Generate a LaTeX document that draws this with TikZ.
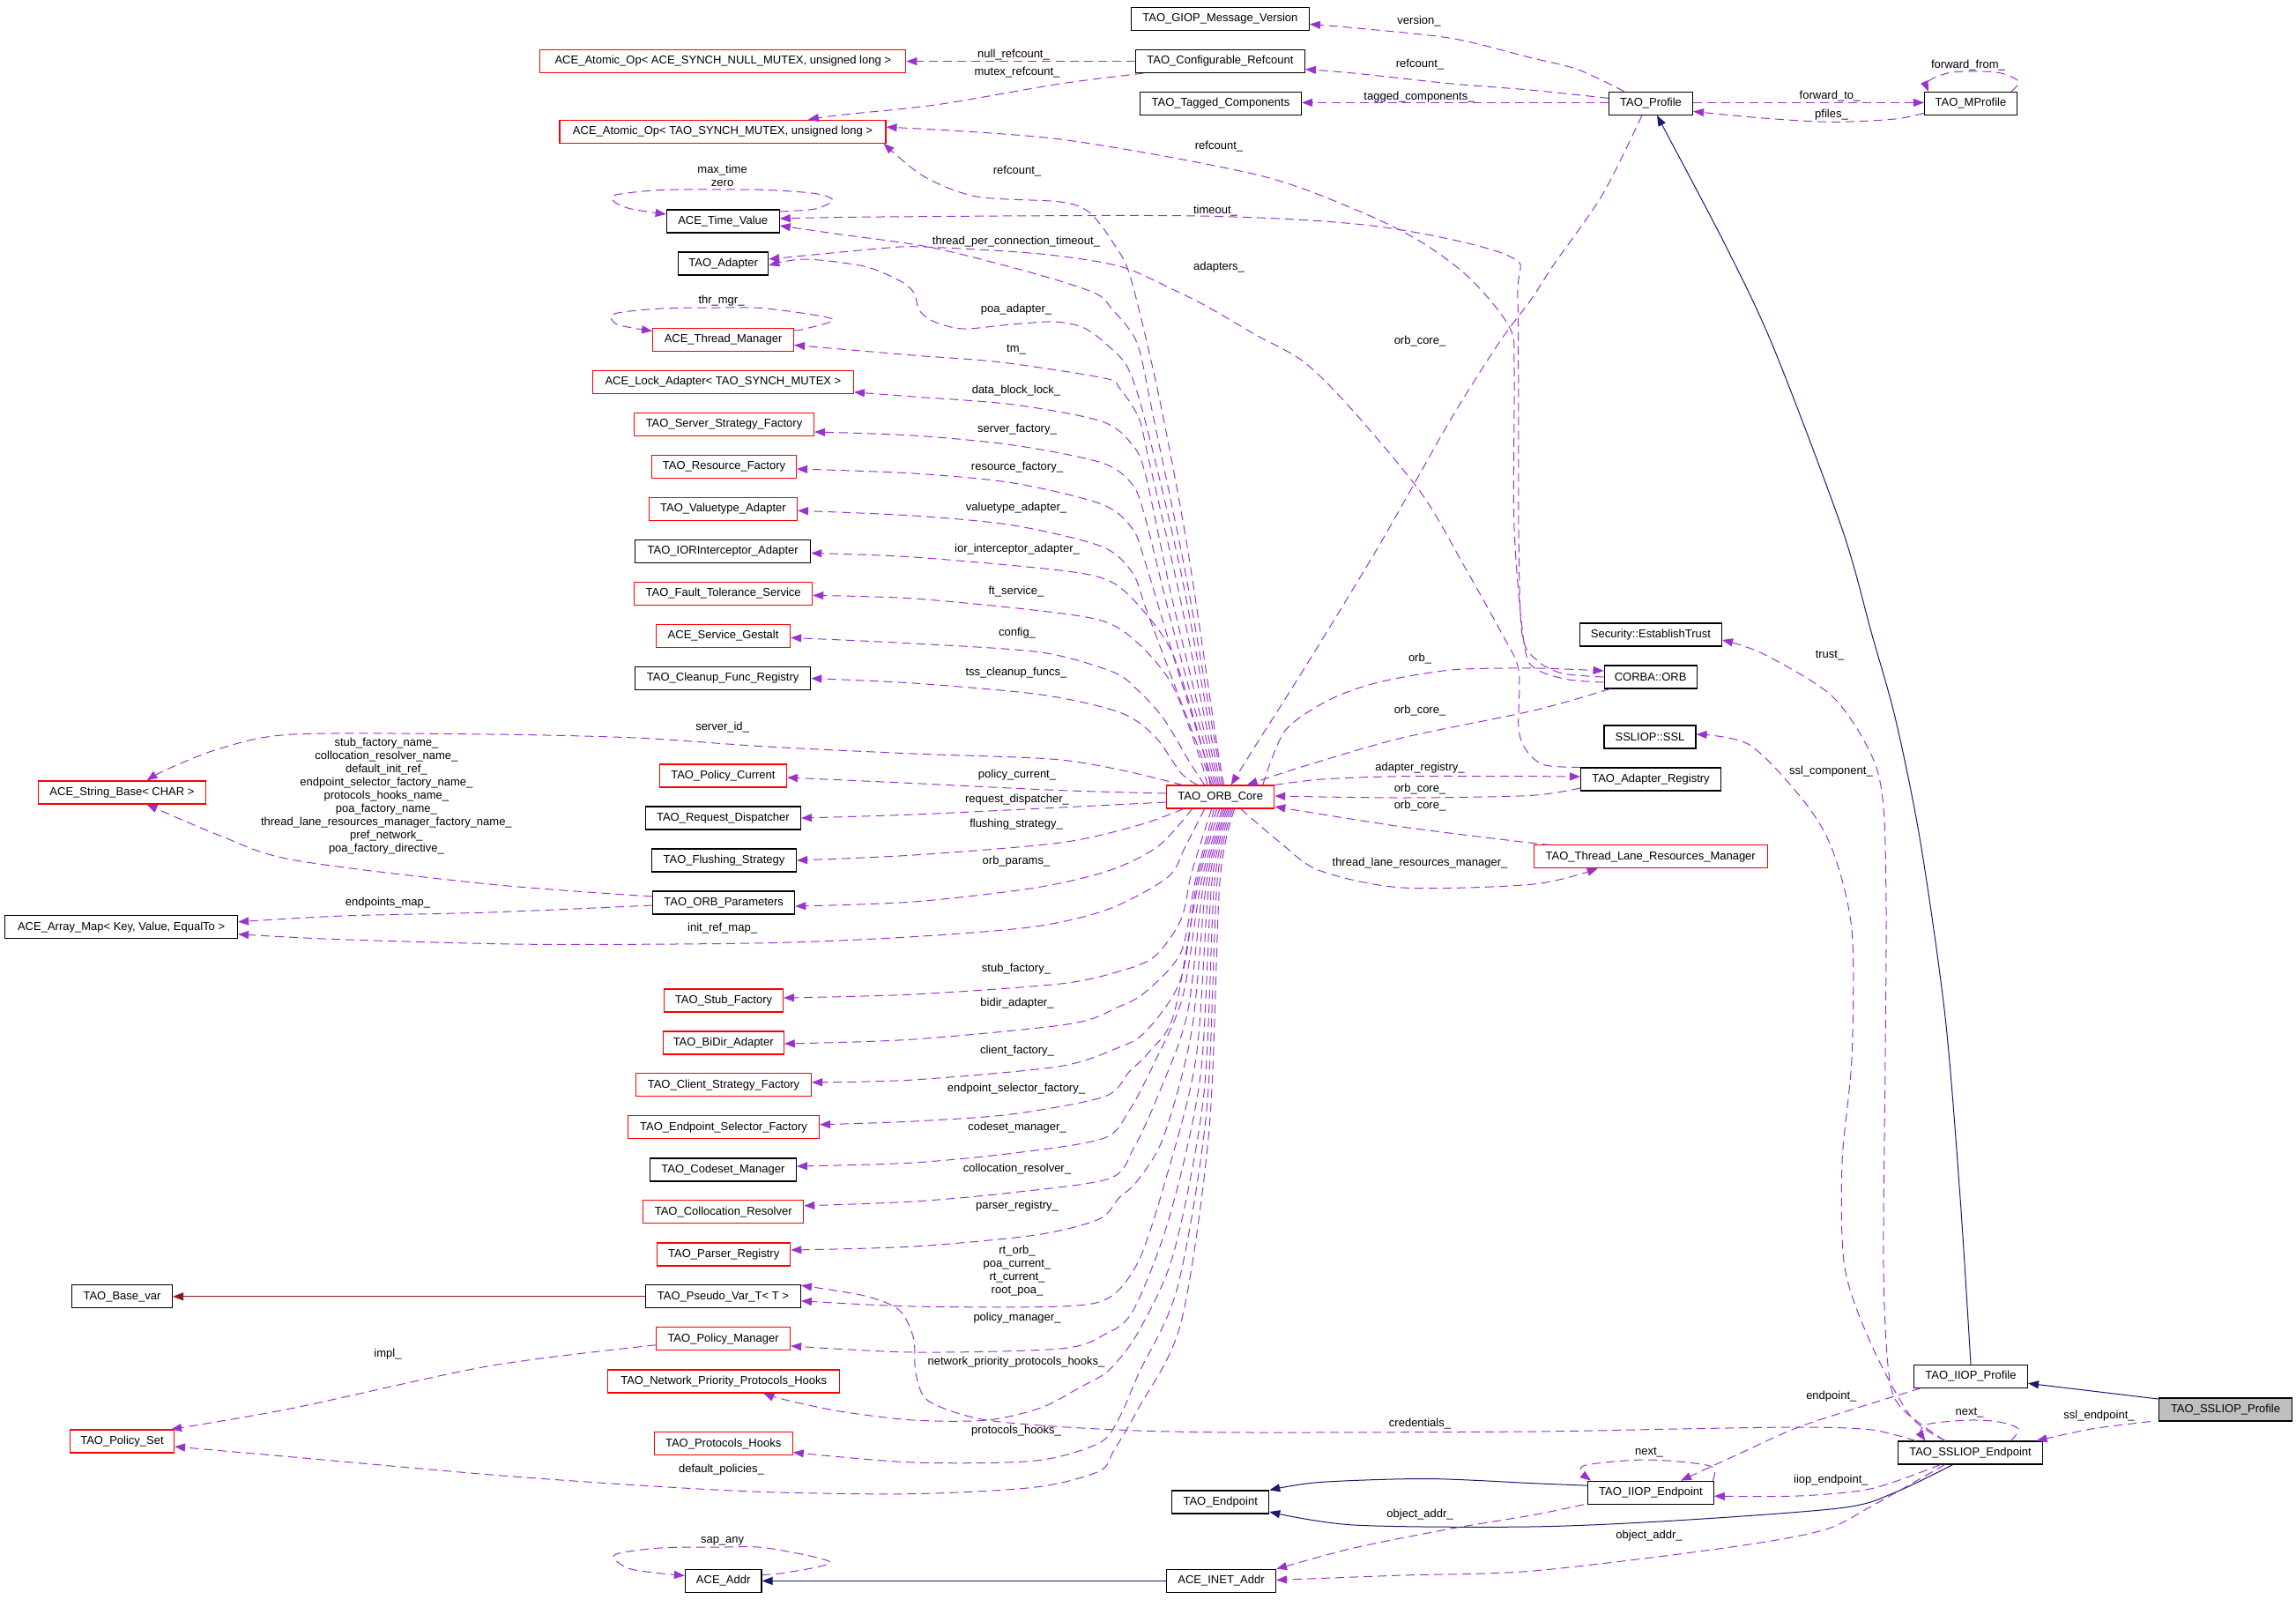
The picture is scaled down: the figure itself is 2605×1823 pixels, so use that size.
\documentclass[tikz,border=0pt]{standalone}
\usepackage{fontspec}
\setmainfont{Liberation Sans}
\usetikzlibrary{arrows.meta}
\definecolor{usecol}{HTML}{9A32CD}
\definecolor{inhcol}{HTML}{191970}
\definecolor{privcol}{HTML}{8B1A1A}
\definecolor{graybox}{HTML}{BFBFBF}
\definecolor{redbox}{HTML}{FF0000}
\begin{document}
\begin{tikzpicture}[x=1pt,y=-1pt,
  every node/.style={font=\fontsize{13}{15}\selectfont},
  bk/.style={draw=black, line width=1.1pt, minimum height=26pt, inner sep=0pt, fill=white},
  rd/.style={bk, draw=redbox},
  gr/.style={bk, fill=graybox},
  lbl/.style={inner sep=0pt, align=center},
  uses/.style={draw=usecol, line width=1pt, dash pattern=on 10pt off 6pt, -{Triangle[length=12pt,width=9pt]}},
  inh/.style={draw=inhcol, line width=1pt, -{Triangle[length=12pt,width=9pt]}},
  priv/.style={draw=privcol, line width=1pt, -{Triangle[length=12pt,width=9pt]}},
]
\useasboundingbox (0,0) rectangle (2605,1823);
% ---------------- nodes ----------------
\node[bk, minimum width=202pt] (giop) at (1384.4,21.5) {TAO\_GIOP\_Message\_Version};
\node[bk, minimum width=192pt] (cref) at (1384.4,69.6) {TAO\_Configurable\_Refcount};
\node[bk, minimum width=183pt] (tagged) at (1385,117.4) {TAO\_Tagged\_Components};
\node[bk, minimum width=95pt] (profile) at (1873,117.4) {TAO\_Profile};
\node[bk, minimum width=105pt] (mprofile) at (2236,117.4) {TAO\_MProfile};
\node[rd, minimum width=415pt] (atomnull) at (820.3,69.6) {ACE\_Atomic\_Op< ACE\_SYNCH\_NULL\_MUTEX, unsigned long >};
\node[rd, minimum width=370pt] (atomtao) at (820,149.2) {ACE\_Atomic\_Op< TAO\_SYNCH\_MUTEX, unsigned long >};
\node[bk, minimum width=128pt] (timeval) at (820.2,251) {ACE\_Time\_Value};
\node[bk, minimum width=102pt] (adapter) at (820.7,299) {TAO\_Adapter};
\node[rd, minimum width=160pt] (thrmgr) at (820.6,385.5) {ACE\_Thread\_Manager};
\node[rd, minimum width=296pt] (lockad) at (820.4,433.3) {ACE\_Lock\_Adapter< TAO\_SYNCH\_MUTEX >};
\node[rd, minimum width=204pt] (serverf) at (821.5,481.5) {TAO\_Server\_Strategy\_Factory};
\node[rd, minimum width=164pt] (resf) at (821.5,529.5) {TAO\_Resource\_Factory};
\node[rd, minimum width=168pt] (valuet) at (820.4,577.3) {TAO\_Valuetype\_Adapter};
\node[bk, minimum width=199pt] (iorint) at (820.2,625.5) {TAO\_IORInterceptor\_Adapter};
\node[rd, minimum width=202pt] (ftserv) at (820.7,673.4) {TAO\_Fault\_Tolerance\_Service};
\node[rd, minimum width=152pt] (gestalt) at (820.6,721.4) {ACE\_Service\_Gestalt};
\node[bk, minimum width=199pt] (cleanup) at (820.2,769.6) {TAO\_Cleanup\_Func\_Registry};
\node[rd, minimum width=144pt] (polcur) at (820.4,880) {TAO\_Policy\_Current};
\node[bk, minimum width=176pt] (reqdisp) at (820.4,928) {TAO\_Request\_Dispatcher};
\node[bk, minimum width=164pt] (flush) at (821.5,976) {TAO\_Flushing\_Strategy};
\node[bk, minimum width=161pt] (orbparams) at (821.2,1024) {TAO\_ORB\_Parameters};
\node[rd, minimum width=190pt] (strbase) at (138.5,899) {ACE\_String\_Base< CHAR >};
\node[bk, minimum width=264pt] (arraymap) at (137.6,1051.8) {ACE\_Array\_Map< Key, Value, EqualTo >};
\node[rd, minimum width=135pt] (stubf) at (821,1135) {TAO\_Stub\_Factory};
\node[rd, minimum width=137pt] (bidir) at (820.7,1183) {TAO\_BiDir\_Adapter};
\node[rd, minimum width=199pt] (clientf) at (821,1230.8) {TAO\_Client\_Strategy\_Factory};
\node[rd, minimum width=217pt] (epself) at (821,1278.8) {TAO\_Endpoint\_Selector\_Factory};
\node[bk, minimum width=166pt] (codeset) at (820.4,1327) {TAO\_Codeset\_Manager};
\node[rd, minimum width=182pt] (colloc) at (820.7,1374.8) {TAO\_Collocation\_Resolver};
\node[rd, minimum width=151pt] (parser) at (821.2,1423) {TAO\_Parser\_Registry};
\node[bk, minimum width=176pt] (pseudo) at (820.4,1470.8) {TAO\_Pseudo\_Var\_T< T >};
\node[bk, minimum width=114pt] (basevar) at (138.5,1470.8) {TAO\_Base\_var};
\node[rd, minimum width=152pt] (polmgr) at (820.6,1518.8) {TAO\_Policy\_Manager};
\node[rd, minimum width=263pt] (netprio) at (821.2,1567) {TAO\_Network\_Priority\_Protocols\_Hooks};
\node[rd, minimum width=118pt] (polset) at (138.5,1635) {TAO\_Policy\_Set};
\node[rd, minimum width=157pt] (prothooks) at (820.7,1637.6) {TAO\_Protocols\_Hooks};
\node[bk, minimum width=86.5pt] (aceaddr) at (820.7,1793.4) {ACE\_Addr};
\node[bk, minimum width=110pt] (endpoint) at (1384.7,1704) {TAO\_Endpoint};
\node[bk, minimum width=124pt] (inetaddr) at (1385.5,1793.4) {ACE\_INET\_Addr};
\node[rd, minimum width=122pt] (orbcore) at (1384.7,904) {TAO\_ORB\_Core};
\node[bk, minimum width=161pt] (trust) at (1873,720) {Security::EstablishTrust};
\node[bk, minimum width=105pt] (corbaorb) at (1872.6,768) {CORBA::ORB};
\node[bk, minimum width=104pt] (ssl) at (1872,836) {SSLIOP::SSL};
\node[bk, minimum width=159pt] (adreg) at (1873,884) {TAO\_Adapter\_Registry};
\node[rd, minimum width=265pt] (tlrm) at (1872.7,971.7) {TAO\_Thread\_Lane\_Resources\_Manager};
\node[bk, minimum width=129pt] (iiopprof) at (2236,1561.3) {TAO\_IIOP\_Profile};
\node[gr, minimum width=151.5pt] (sslprof) at (2525,1599) {TAO\_SSLIOP\_Profile};
\node[bk, minimum width=164pt] (sslep) at (2235.5,1648) {TAO\_SSLIOP\_Endpoint};
\node[bk, minimum width=142.6pt] (iiopep) at (1873,1693.2) {TAO\_IIOP\_Endpoint};
% ---------------- top area ----------------
\draw[uses] (cref.west) -- (atomnull.east);
\draw[uses] plot[smooth] coordinates {([xshift=-87pt]cref.south) (1203,95) (1064,118.6) (953,130.5) ([xshift=97pt]atomtao.north)};
\draw[uses] plot[smooth] coordinates {([xshift=-30pt]profile.north) (1790.5,79) (1735,65) (1647,43.5) (1536,31.6) ([yshift=-6pt]giop.east)};
\draw[uses] plot[smooth] coordinates {([yshift=6pt]profile.west) (1735,102) (1647,95) (1536,83) ([yshift=-9pt]cref.east)};
\draw[uses] ([yshift=1pt]profile.west) -- ([yshift=1pt]tagged.east);
\draw[uses] ([yshift=1pt]profile.east) -- ([yshift=1pt]mprofile.west);
\draw[uses] plot[smooth] coordinates {([yshift=-11pt]mprofile.west) (2150,135) (2079,138.4) (2000,134) ([yshift=-9pt]profile.east)};
\draw[uses] plot[smooth] coordinates {([xshift=46pt]mprofile.north) (2290,92) (2265,82) (2215,82) (2188,92) ([xshift=-48pt]mprofile.north)};
\draw[uses] plot[smooth] coordinates {([xshift=-10pt]profile.south) (1818,221) (1763,300) (1737,340) (1702,387) (1647,474) (1564,620) (1480,758) (1425,845) ([xshift=12pt]orbcore.north)};
\draw[inh] plot[smooth] coordinates {(iiopprof.north) (2224,1359) (2207,1154) (2179,956) (2151,817.5) (2123.5,718.6) (2090,600) (2012.5,395) (1957,277) ([xshift=7pt]profile.south)};
% ---------------- self loops ----------------
\draw[uses] plot[smooth] coordinates {([yshift=11pt]timeval.east) (925,237) (945,227) (925,219.5) (870,215.5) (820,215) (750,215.5) (699,221) (697,229) (716,237) ([yshift=8pt]timeval.west)};
\draw[uses] plot[smooth] coordinates {([yshift=11pt]thrmgr.east) (909,374) (945,362) (870,350) (820,349) (750,350) (697,356) (700,368) ([yshift=10pt]thrmgr.west)};
\draw[uses] plot[smooth] coordinates {([yshift=7pt]aceaddr.east) (892,1784) (942,1772) (870,1756) (820,1755) (749,1756) (697,1764) (716,1780) ([yshift=6pt]aceaddr.west)};
% ---------------- CORBA::ORB / adapter registry ----------------
\draw[uses] plot[smooth] coordinates {(corbaorb.west) (1773,764) (1745,750) (1727,720) (1723,600) (1722,340) (1713,291) (1564,257) (1360,245) (1000,246) ([yshift=3pt]timeval.east)};
\draw[uses] plot[smooth] coordinates {([yshift=-6pt]corbaorb.west) (1780,771) (1745,760) (1730,735) (1718,600) (1718,420) (1713,372) (1668,316) (1610,273) (1536,237) (1425,198) (1203,158) ([yshift=5pt]atomtao.east)};
\draw[uses] plot[smooth] coordinates {(adreg.north west) (1753,868) (1733,853) (1723,827) (1723,760) (1703,717) (1660,640) (1613,560) (1536,467) (1480,411) (1425,380) (1370,348) (1330,328) (1270,302) (1180,288) (1047,280) (997,282) ([yshift=5pt]adapter.east)};
\draw[uses] plot[smooth] coordinates {([xshift=48pt]orbcore.north) (1458,829) (1508,794) (1564,774) (1647,760) (1740,758) ([yshift=7pt]corbaorb.west)};
\draw[uses] plot[smooth] coordinates {([xshift=-46pt]corbaorb.south) (1740,806) (1591,837) (1480,869) ([xshift=30pt]orbcore.north)};
\draw[uses] plot[smooth] coordinates {(orbcore.north east) (1500,884) (1591,880.7) (1740,880.7) ([yshift=3pt]adreg.west)};
\draw[uses] plot[smooth] coordinates {([yshift=-10pt]adreg.west) (1735,902.5) (1591,905) ([yshift=1pt]orbcore.east)};
\draw[uses] plot[smooth] coordinates {([xshift=-113pt]tlrm.north) (1735,956) (1591,938) ([yshift=-11pt]orbcore.east)};
\draw[uses] plot[smooth] coordinates {([xshift=23pt]orbcore.south) (1452.7,956) (1497,987.5) (1591,1007) (1740,1003) ([xshift=-60pt]tlrm.south)};
% ---------------- ORB core upper fan ----------------
\draw[uses] plot[smooth] coordinates {([xshift=4pt]orbcore.north) (1380,840) (1347,620) (1315,450) (1283,316) (1264,277) (1236,241) (1203,229) (1108,223) (1048,200) ([xshift=-3pt]atomtao.south east)};
\draw[uses] plot[smooth] coordinates {([xshift=2pt]orbcore.north) (1378,840) (1345,650) (1310,480) (1293,398) (1280,372) (1263,352) (1247,335) (1213,322) (1147,303) (1053,280) (947,265) ([yshift=-5pt]timeval.east)};
\draw[uses] plot[smooth] coordinates {(orbcore.north) (1375,840) (1340,650) (1300,480) (1280,418) (1257,392) (1230,372) (1197,365) (1147,368) (1093,373) (1060,365) (1043,352) (1037,332) (1020,318) (980,302) (913,294) ([yshift=-2pt]adapter.east)};
\draw[uses] plot[smooth] coordinates {([xshift=-2pt]orbcore.north) (1372,840) (1335,660) (1303,520) (1292,474) (1270,440) (1253,429) (1136,411) (1036,403) ([yshift=-6pt]thrmgr.east)};
\draw[uses] plot[smooth] coordinates {([xshift=-4pt]orbcore.north) (1370,845) (1330,680) (1300,540) (1285,505) (1250,478) (1150,459) (1036,450) ([yshift=2pt]lockad.south east)};
\draw[uses] plot[smooth] coordinates {([xshift=-6pt]orbcore.north) (1368,850) (1330,710) (1300,590) (1285,550) (1250,525) (1150,505) (1036,494) ([yshift=-8.5pt]serverf.east)};
\draw[uses] plot[smooth] coordinates {([xshift=-8pt]orbcore.north) (1366,855) (1330,740) (1300,640) (1285,600) (1250,572) (1150,548) (1036,537) ([yshift=-2.5pt]resf.east)};
\draw[uses] plot[smooth] coordinates {([xshift=-10pt]orbcore.north) (1364,860) (1330,770) (1300,690) (1285,650) (1250,620) (1150,596) (1036,585) ([yshift=-2pt]valuet.east)};
\draw[uses] plot[smooth] coordinates {([xshift=-12pt]orbcore.north) (1366,855) (1330.6,742) (1292,687) (1258.5,659) (1203,647) (1036.5,632) ([yshift=-2pt]iorint.east)};
\draw[uses] plot[smooth] coordinates {([xshift=-15pt]orbcore.north) (1362,862) (1330.6,778) (1292,730.5) (1253,705) (1181,693) (1036.5,679) ([yshift=-2pt]ftserv.east)};
\draw[uses] plot[smooth] coordinates {([xshift=-18pt]orbcore.north) (1350,865) (1320,815) (1290,782) (1262,762) (1181,740) (1036.5,730) ([yshift=-2pt]gestalt.east)};
\draw[uses] plot[smooth] coordinates {([xshift=-26pt]orbcore.north) (1340,877) (1310,835) (1270,808) (1181,788) (1036,775) (cleanup.east)};
\draw[uses] plot[smooth] coordinates {([xshift=-43pt]orbcore.north) (1269.5,873) (1192,861) (1036.5,855) (870,847) (721,837) (555,833) (333,833) (250,849) (189,873) ([xshift=28pt]strbase.north)};
\draw[uses] plot[smooth] coordinates {([yshift=4pt]orbcore.west) (1203,896.6) (1036.5,888.6) ([yshift=-2pt]polcur.east)};
\draw[uses] plot[smooth] coordinates {([yshift=-6pt]orbcore.west) (1203,916) (1036.5,924) (reqdisp.east)};
% ---------------- ORB core lower fan ----------------
\draw[uses] plot[smooth] coordinates {([xshift=-42pt]orbcore.south) (1292,936) (1203,956) (1036.5,970) (flush.east)};
\draw[uses] plot[smooth] coordinates {([xshift=-32pt]orbcore.south) (1314,960) (1258.5,987.5) (1175,1007) (1036.5,1023) ([yshift=-4pt]orbparams.east)};
\draw[uses] plot[smooth] coordinates {([xshift=-18pt]orbcore.south) (1345,960) (1325,995) (1258.5,1031) (1175,1051) (1036.5,1062.6) (870,1069.7) (610,1071.3) (388.5,1065.8) ([yshift=-8pt]arraymap.east)};
\draw[uses] plot[smooth] coordinates {([xshift=-10pt]orbcore.south) (1352,990) (1340,1043) (1310,1085) (1269.5,1102) (1203,1116) (1036.5,1128) ([yshift=3pt]stubf.east)};
\draw[uses] plot[smooth] coordinates {([xshift=-7pt]orbcore.south) (1356,1000) (1340,1080) (1300,1125) (1269.5,1142) (1214,1161.5) (1036.5,1179) ([yshift=-1pt]bidir.east)};
\draw[uses] plot[smooth] coordinates {([xshift=-4pt]orbcore.south) (1358,1000) (1340,1110) (1300,1170) (1265,1190) (1200,1210) (1036.5,1225) ([yshift=3pt]clientf.east)};
\draw[uses] plot[smooth] coordinates {([xshift=-1pt]orbcore.south) (1360,1000) (1332,1150) (1305,1192) (1281,1216) (1253,1244) (1147,1264) (1036.5,1272) ([yshift=3pt]epself.east)};
\draw[uses] plot[smooth] coordinates {([xshift=2pt]orbcore.south) (1363,1000) (1342,1130) (1310,1205) (1281,1260) (1253,1291) (1159,1307) (1036.5,1319) ([yshift=4pt]codeset.east)};
\draw[uses] plot[smooth] coordinates {([xshift=4pt]orbcore.south) (1366,1000) (1347,1150) (1315,1240) (1286,1303) (1258.5,1337) (1147,1353) (1036.5,1363) ([yshift=7pt]colloc.east)};
\draw[uses] plot[smooth] coordinates {([xshift=6pt]orbcore.south) (1369,1000) (1352,1170) (1320,1290) (1290,1340) (1269.5,1359) (1247,1383) (1175,1401) (1036.5,1414) ([yshift=5pt]parser.east)};
\draw[uses] plot[smooth] coordinates {([xshift=8pt]orbcore.south) (1372,1000) (1357,1200) (1322,1340) (1292,1430) (1258.5,1472) (1203,1482) (1036.5,1482) ([yshift=-5pt]pseudo.east)};
\draw[uses] plot[smooth] coordinates {([xshift=10pt]orbcore.south) (1375,1000) (1362,1220) (1327,1380) (1286,1486) (1253,1514) (1203,1530) (1036.5,1534) ([yshift=-8pt]polmgr.east)};
\draw[uses] plot[smooth] coordinates {([xshift=12pt]orbcore.south) (1378,1000) (1366,1240) (1332,1420) (1292,1510) (1258.5,1554) (1225,1574) (1181,1597) (1120,1611) (1036.5,1611) (953,1601) (887,1587) ([xshift=45pt]netprio.south)};
\draw[uses] plot[smooth] coordinates {([xshift=14pt]orbcore.south) (1381,1000) (1369,1260) (1336,1460) (1292,1558) (1269.5,1609) (1247,1637) (1175,1657) (1036.5,1659) ([yshift=-10pt]prothooks.east)};
\draw[uses] plot[smooth] coordinates {([xshift=16pt]orbcore.south) (1384,1000) (1372,1280) (1340,1500) (1292,1597) (1264,1645) (1247,1669) (1175,1687) (1036.5,1694.6) (870,1692.6) (721,1684.7) (555,1672.8) (333,1653) ([yshift=-6pt]polset.east)};
% ---------------- left side ----------------
\draw[priv] (pseudo.west) -- (basevar.east);
\draw[uses] plot[smooth] coordinates {([yshift=-7pt]polmgr.west) (555,1549.6) (333,1597.3) ([xshift=-4pt]polset.north east)};
\draw[uses] plot[smooth] coordinates {([yshift=7pt]orbparams.west) (555,1003) (333,975.6) (249.7,948) ([xshift=28pt]strbase.south)};
\draw[uses] plot[smooth] coordinates {([yshift=-3pt]orbparams.west) (555,1035) (388.5,1039) ([yshift=6pt]arraymap.east)};
% ---------------- SSLIOP area ----------------
\draw[uses] plot[smooth] coordinates {([xshift=-29pt]sslep.north) (2157,1597) (2143,1558) (2137,1438) (2139,1200) (2140,1035) (2137,916) (2123.5,857) (2079,790) (2001,742) ([yshift=-6pt]trust.east)};
\draw[uses] plot[smooth] coordinates {([xshift=-28pt]sslep.north) (2168,1607) (2123.5,1526) (2093,1438) (2090,1319) (2101,1200) (2101,1055) (2079,964) (2046,908) (1985,845) ([yshift=3pt]ssl.east)};
\draw[inh] ([yshift=12pt]sslprof.west) -- ([yshift=-8pt]iiopprof.east);
\draw[uses] plot[smooth] coordinates {([xshift=-85pt]sslprof.south) (2373,1621) ([xshift=75pt]sslep.north)};
\draw[uses] plot[smooth] coordinates {([xshift=46pt]sslep.north) (2290,1621) (2268,1613) (2234.5,1611) (2190,1615) (2179,1623) ([xshift=-51pt]sslep.north)};
\draw[uses] plot[smooth] coordinates {([xshift=-62pt]sslep.north) (2123.5,1622) (2046,1619) (1901.5,1621) (1740,1624) (1425,1625) (1292,1623) (1181,1617) (1108.6,1609) (1053,1589) (1039,1558) (1036.5,1518) (1020,1486) (981,1470) ([yshift=-1pt]pseudo.north east)};
\draw[uses] plot[smooth] coordinates {([xshift=-57pt]iiopprof.south) (2046,1617) (1973.6,1649) ([xshift=34pt]iiopep.north)};
\draw[uses] plot[smooth] coordinates {([xshift=70pt]iiopep.north) (1940,1663) (1868,1656) (1796,1663) ([xshift=-68pt]iiopep.north)};
\draw[uses] plot[smooth] coordinates {([xshift=-34pt]sslep.south) (2123.5,1688.7) (2040,1697) ([yshift=-4pt]iiopep.east)};
\draw[inh] plot[smooth] coordinates {([yshift=8pt]iiopep.west) (1740,1682.7) (1619,1677.5) (1497,1681.5) (endpoint.north east)};
\draw[inh] plot[smooth] coordinates {([xshift=-20pt]sslep.south) (2151,1692.6) (2090,1710.5) (1900,1725) (1735,1732) (1536,1730) ([yshift=-11pt]endpoint.east)};
\draw[uses] plot[smooth] coordinates {([xshift=-76pt]iiopep.south) (1740,1718.5) (1647,1734) (1536,1756) (inetaddr.north east)};
\draw[uses] plot[smooth] coordinates {([xshift=-29pt]sslep.south) (2123.5,1708.5) (2068,1736) (1957,1756) (1740,1782) (1591,1787) ([yshift=1pt]inetaddr.east)};
\draw[inh] (inetaddr.west) -- (aceaddr.east);
% ---------------- labels ----------------
\node[lbl] (l01) at (1150,62) {null\_refcount\_};
\node[lbl] (l02) at (1154,82) {mutex\_refcount\_};
\node[lbl] (l03) at (1610,24) {version\_};
\node[lbl] (l04) at (1611,73.5) {refcount\_};
\node[lbl] (l05) at (1610,110) {tagged\_components\_};
\node[lbl] (l06) at (2076,109.5) {forward\_to\_};
\node[lbl] (l07) at (2078,129.7) {pfiles\_};
\node[lbl] (l08) at (2233,74) {forward\_from\_};
\node[lbl] (l09) at (1383,166) {refcount\_};
\node[lbl] (l10) at (1154,194) {refcount\_};
\node[lbl] (l11) at (819.6,199.3) {max\_time\\zero};
\node[lbl] (l12) at (1379,239) {timeout\_};
\node[lbl] (l13) at (1153,274) {thread\_per\_connection\_timeout\_};
\node[lbl] (l14) at (1383,303) {adapters\_};
\node[lbl] (l15) at (818.5,341) {thr\_mgr\_};
\node[lbl] (l16) at (1153,351) {poa\_adapter\_};
\node[lbl] (l17) at (1611,387) {orb\_core\_};
\node[lbl] (l18) at (1153,397) {tm\_};
\node[lbl] (l19) at (1153,443) {data\_block\_lock\_};
\node[lbl] (l20) at (1154,487.5) {server\_factory\_};
\node[lbl] (l21) at (1154,530) {resource\_factory\_};
\node[lbl] (l22) at (1153,576) {valuetype\_adapter\_};
\node[lbl] (l23) at (1154,623) {ior\_interceptor\_adapter\_};
\node[lbl] (l24) at (1153,671) {ft\_service\_};
\node[lbl] (l25) at (1154,718.6) {config\_};
\node[lbl] (l26) at (2076,743.5) {trust\_};
\node[lbl] (l27) at (1611,747.5) {orb\_};
\node[lbl] (l28) at (1153,763) {tss\_cleanup\_funcs\_};
\node[lbl] (l29) at (1611,805.6) {orb\_core\_};
\node[lbl] (l30) at (819.6,825.4) {server\_id\_};
\node[lbl] (l31) at (1611,871) {adapter\_registry\_};
\node[lbl] (l32) at (2077.4,874.8) {ssl\_component\_};
\node[lbl] (l33) at (1154,878.8) {policy\_current\_};
\node[lbl] (l34) at (1611,894.6) {orb\_core\_};
\node[lbl] (l35) at (438.4,902.7) {stub\_factory\_name\_\\collocation\_resolver\_name\_\\default\_init\_ref\_\\endpoint\_selector\_factory\_name\_\\protocols\_hooks\_name\_\\poa\_factory\_name\_\\thread\_lane\_resources\_manager\_factory\_name\_\\pref\_network\_\\poa\_factory\_directive\_};
\node[lbl] (l36) at (1154,907.6) {request\_dispatcher\_};
\node[lbl] (l37) at (1611,913.6) {orb\_core\_};
\node[lbl] (l38) at (1153,935) {flushing\_strategy\_};
\node[lbl] (l39) at (1153,977.6) {orb\_params\_};
\node[lbl] (l40) at (1611,979.6) {thread\_lane\_resources\_manager\_};
\node[lbl] (l41) at (440,1024) {endpoints\_map\_};
\node[lbl] (l42) at (819.6,1053.5) {init\_ref\_map\_};
\node[lbl] (l43) at (1153,1099) {stub\_factory\_};
\node[lbl] (l44) at (1154,1137.8) {bidir\_adapter\_};
\node[lbl] (l45) at (1154,1192) {client\_factory\_};
\node[lbl] (l46) at (1153,1235) {endpoint\_selector\_factory\_};
\node[lbl] (l47) at (1154,1279.5) {codeset\_manager\_};
\node[lbl] (l48) at (1154,1326.3) {collocation\_resolver\_};
\node[lbl] (l49) at (1154,1367.7) {parser\_registry\_};
\node[lbl] (l50) at (1154,1441.8) {rt\_orb\_\\poa\_current\_\\rt\_current\_\\root\_poa\_};
\node[lbl] (l51) at (1154,1494.8) {policy\_manager\_};
\node[lbl] (l52) at (440,1535.7) {impl\_};
\node[lbl] (l53) at (1153,1545.6) {network\_priority\_protocols\_hooks\_};
\node[lbl] (l54) at (2077.8,1583.8) {endpoint\_};
\node[lbl] (l55) at (2234.5,1602.5) {next\_};
\node[lbl] (l56) at (2381.5,1606) {ssl\_endpoint\_};
\node[lbl] (l57) at (1611,1615) {credentials\_};
\node[lbl] (l58) at (1153,1622.7) {protocols\_hooks\_};
\node[lbl] (l59) at (1871,1648) {next\_};
\node[lbl] (l60) at (818.5,1667.6) {default\_policies\_};
\node[lbl] (l61) at (2077.4,1678.7) {iiop\_endpoint\_};
\node[lbl] (l62) at (1611,1718.5) {object\_addr\_};
\node[lbl] (l63) at (1871,1742) {object\_addr\_};
\node[lbl] (l64) at (819.6,1748) {sap\_any};
\end{tikzpicture}
\end{document}
